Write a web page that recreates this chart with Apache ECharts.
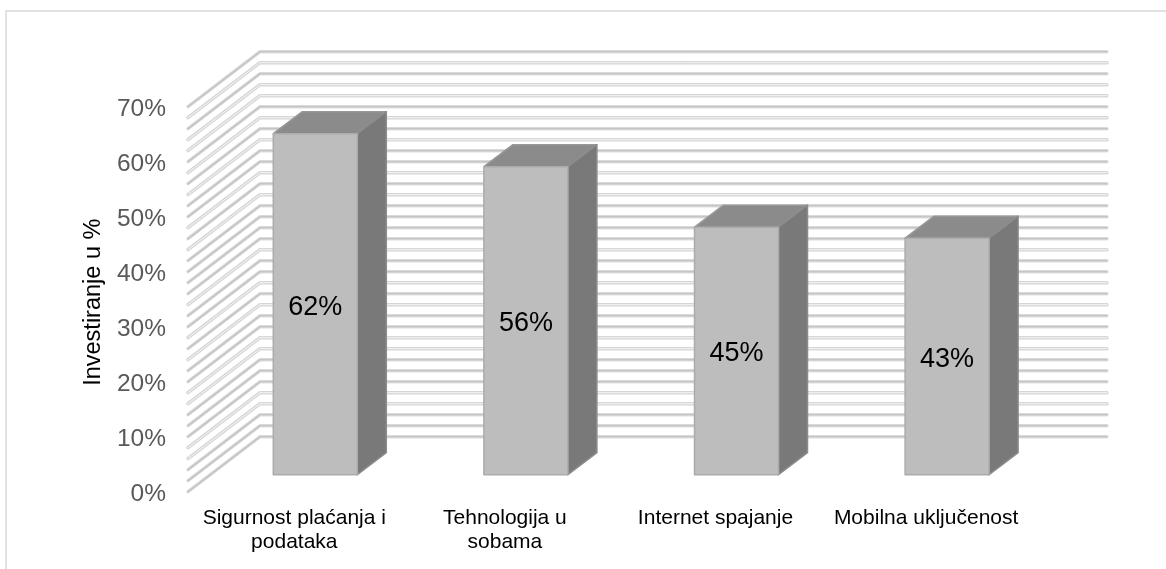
<!DOCTYPE html>
<html>
<head>
<meta charset="utf-8">
<style>
  html, body { margin: 0; padding: 0; background: #fff; }
  #chart { width: 1166px; height: 569px; }
</style>
<script src="https://cdn.jsdelivr.net/npm/echarts@6/dist/echarts.min.js"></script>
</head>
<body>
<div id="chart"></div>
<script>
var categories = ["Sigurnost plaćanja i\npodataka", "Tehnologija u\nsobama", "Internet spajanje", "Mobilna uključenost"];
var investValues = [62, 56, 45, 43];
var axisTicks = [0, 10, 20, 30, 40, 50, 60, 70];
var minorLines = [0, 2, 4, 6, 8, 10, 12, 14, 16, 18, 20, 22, 24, 26, 28, 30, 32, 34, 36, 38, 40, 42, 44, 46, 48, 50, 52, 54, 56, 58, 60, 62, 64, 66, 68, 70];
// these come out with a pale core in the original scan
var paleLines = [68, 64, 62, 58, 54, 48, 44, 34, 28, 24, 18, 16, 8, 6];

var FONT = '"Liberation Sans", Arial, sans-serif';
var wallDx = 72, wallDy = 55;
var barWidth = 84, barDx = 29, barDy = 22;
// bars stand part way into the floor
var floorDx = 21, floorDy = 17;

var myChart = echarts.init(document.getElementById("chart"));

function renderGridLine(params, api) {
  var v = api.value(1);
  var back = api.coord([0, v]);
  var right = api.coord([1, v]);
  var pts = [[back[0] - wallDx, back[1] + wallDy], back, right];
  var pale = paleLines.indexOf(v) >= 0;
  return {
    type: "group",
    children: [
      {
        type: "polyline",
        shape: { points: pts },
        style: { fill: null, stroke: pale ? "#d6d6d6" : "#e0e0e0", lineWidth: 3.4, lineCap: "round", lineJoin: "round" }
      },
      {
        type: "polyline",
        shape: { points: pts },
        style: { fill: null, stroke: pale ? "#f6f6f6" : "#c6c6c6", lineWidth: pale ? 1 : 1.8, lineCap: "round", lineJoin: "round" }
      }
    ]
  };
}

function renderBar(params, api) {
  var top = api.coord([api.value(0), api.value(1)]);
  var base = api.coord([api.value(0), 0]);
  var x0 = top[0] + floorDx - barWidth / 2;
  var x1 = x0 + barWidth;
  var yTop = top[1] - floorDy;
  var yBase = base[1] - floorDy;
  var edge = { stroke: "#ababab", lineWidth: 1.5, lineJoin: "round" };
  return {
    type: "group",
    children: [
      {
        type: "polygon",
        shape: { points: [[x0, yTop], [x1, yTop], [x1 + barDx, yTop - barDy], [x0 + barDx, yTop - barDy]] },
        style: Object.assign({ fill: "#8b8b8b" }, edge, { stroke: "#989898" })
      },
      {
        type: "polygon",
        shape: { points: [[x1, yTop], [x1 + barDx, yTop - barDy], [x1 + barDx, yBase - barDy], [x1, yBase]] },
        style: Object.assign({ fill: "#797979" }, edge, { stroke: "#8c8c8c" })
      },
      {
        type: "rect",
        shape: { x: x0, y: yTop, width: barWidth, height: yBase - yTop },
        style: Object.assign({ fill: "#bdbdbd" }, edge)
      },
      {
        type: "text",
        style: {
          x: (x0 + x1) / 2,
          y: (yTop + yBase) / 2 + 3,
          text: api.value(1) + "%",
          fill: "#000",
          font: "27px " + FONT,
          align: "center",
          verticalAlign: "middle"
        }
      }
    ]
  };
}

var option = {
  animation: false,
  backgroundColor: "#fff",
  graphic: [
    { type: "line", shape: { x1: 6, y1: 11, x2: 1166, y2: 11 }, style: { stroke: "#e2e2e2", lineWidth: 2 } },
    { type: "line", shape: { x1: 6, y1: 10, x2: 6, y2: 569 }, style: { stroke: "#e2e2e2", lineWidth: 2 } }
  ],
  grid: [
    { left: 189, top: 106.7, width: 842.4, height: 385 },
    { left: 260, top: 51.7, width: 847, height: 385 }
  ],
  xAxis: [
    {
      type: "category",
      gridIndex: 0,
      data: categories,
      axisLine: { show: false },
      axisTick: { show: false },
      axisLabel: { color: "#000", fontFamily: FONT, fontSize: 21, lineHeight: 24.5, margin: 14, interval: 0 }
    },
    { type: "value", gridIndex: 1, min: 0, max: 1, show: false }
  ],
  yAxis: [
    {
      type: "value",
      gridIndex: 0,
      min: 0,
      max: 70,
      interval: 10,
      name: "Investiranje u %",
      nameLocation: "middle",
      nameRotate: 90,
      nameGap: 83,
      nameTextStyle: { color: "#000", fontFamily: FONT, fontSize: 23.5, padding: [0, 6, 0, 0] },
      axisLine: { show: false },
      axisTick: { show: false },
      splitLine: { show: false },
      axisLabel: {
        margin: 23,
        formatter: function (v) {
          return axisTicks.indexOf(v) >= 0 ? "{t|" + v + "%}" : "";
        },
        rich: {
          // nudges the tick text a little under its gridline, as in the original
          t: { color: "#595959", fontFamily: FONT, fontSize: 24.5, padding: [6, 0, 0, 0] }
        }
      }
    },
    { type: "value", gridIndex: 1, min: 0, max: 70, show: false }
  ],
  series: [
    {
      type: "custom",
      xAxisIndex: 1,
      yAxisIndex: 1,
      z: 1,
      silent: true,
      clip: false,
      renderItem: renderGridLine,
      data: minorLines.map(function (v) { return [0, v]; }),
      encode: { x: 0, y: 1 }
    },
    {
      type: "custom",
      xAxisIndex: 0,
      yAxisIndex: 0,
      z: 5,
      clip: false,
      renderItem: renderBar,
      data: investValues.map(function (v, i) { return [i, v]; }),
      encode: { x: 0, y: 1 }
    }
  ]
};
myChart.setOption(option);
</script>
</body>
</html>
